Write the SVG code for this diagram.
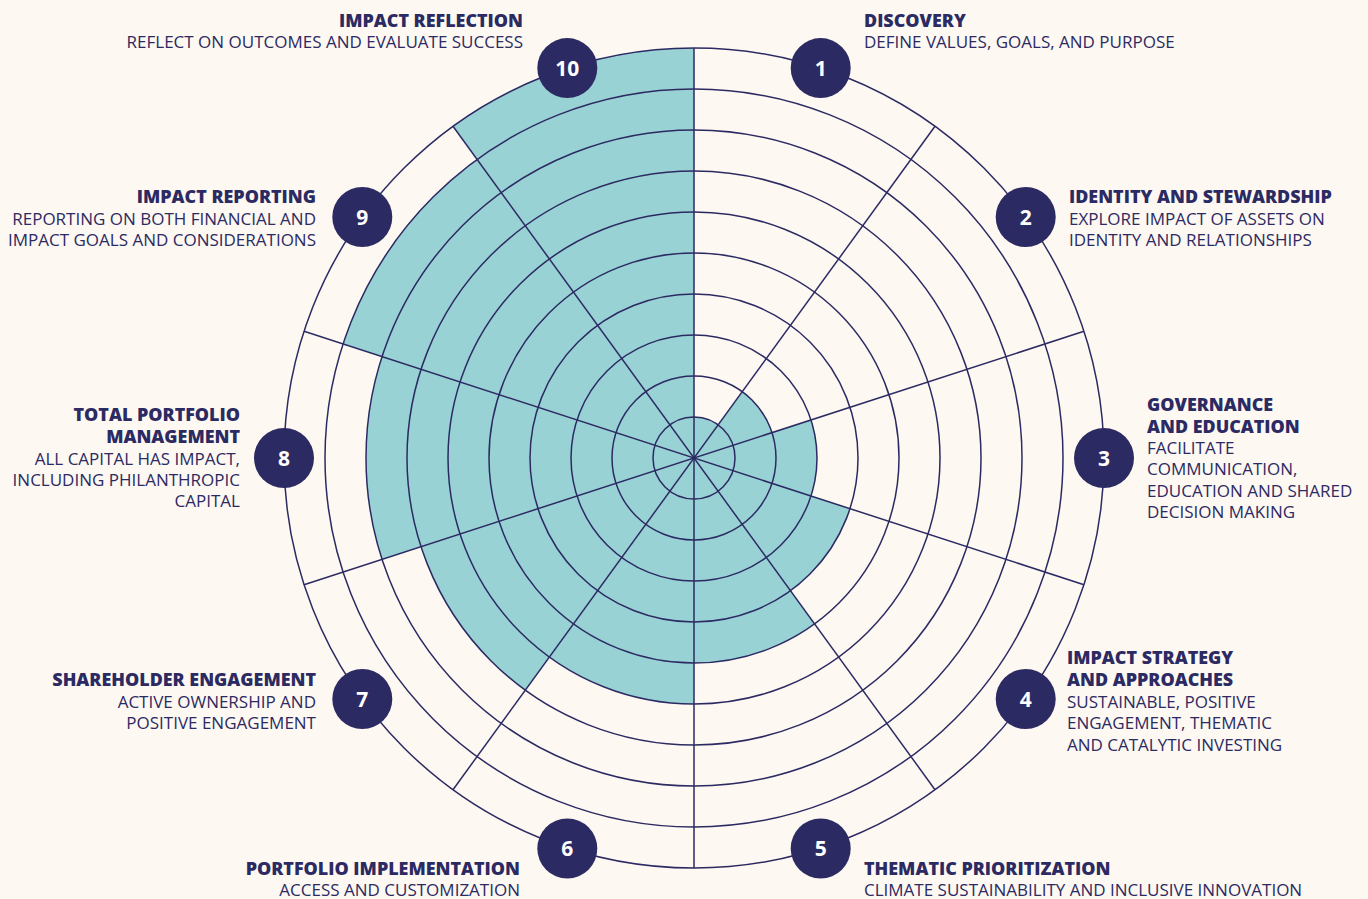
<svg xmlns="http://www.w3.org/2000/svg" width="1368" height="899" viewBox="0 0 1368 899">
<style>
.bg{fill:#fdf8f2}
.fill{fill:#98d2d5;stroke:none}
.ring{fill:none;stroke:#2c2a62;stroke-width:1.5}
.spoke{stroke:#2c2a62;stroke-width:1.5}
.badge{fill:#2c2a62}
.num{font-family:"Open Sans","Noto Sans",sans-serif;font-weight:700;font-size:21px;fill:#ffffff;text-anchor:middle}
.t{font-family:"Open Sans","Noto Sans",sans-serif;font-weight:800;font-size:17.9px;fill:#2c2a62}
.s{font-family:"Open Sans","Noto Sans",sans-serif;font-weight:400;font-size:17px;fill:#2c2a62}
.r{text-anchor:end}
</style>
<rect class="bg" x="0" y="0" width="1368" height="899"/>
<g id="fills">
<path class="fill" d="M694,458 L694,417 A41,41 0 0 1 718.10,424.83 Z"/>
<path class="fill" d="M694,458 L742.20,391.66 A82,82 0 0 1 771.99,432.66 Z"/>
<path class="fill" d="M694,458 L810.98,419.99 A123,123 0 0 1 810.98,496.01 Z"/>
<path class="fill" d="M694,458 L849.98,508.68 A164,164 0 0 1 790.40,590.68 Z"/>
<path class="fill" d="M694,458 L814.50,623.85 A205,205 0 0 1 694,663 Z"/>
<path class="fill" d="M694,458 L694,704 A246,246 0 0 1 549.40,657.01 Z"/>
<path class="fill" d="M694,458 L525.30,690.18 A287,287 0 0 1 421.03,546.68 Z"/>
<path class="fill" d="M694,458 L382.04,559.35 A328,328 0 0 1 382.04,356.65 Z"/>
<path class="fill" d="M694,458 L343.05,343.98 A369,369 0 0 1 477.10,159.48 Z"/>
<path class="fill" d="M694,458 L453.00,126.31 A410,410 0 0 1 694,48 Z"/>
</g>
<g id="connectors">
<circle class="ring" cx="694" cy="458" r="41"/>
<circle class="ring" cx="694" cy="458" r="82"/>
<circle class="ring" cx="694" cy="458" r="123"/>
<circle class="ring" cx="694" cy="458" r="164"/>
<circle class="ring" cx="694" cy="458" r="205"/>
<circle class="ring" cx="694" cy="458" r="246"/>
<circle class="ring" cx="694" cy="458" r="287"/>
<circle class="ring" cx="694" cy="458" r="328"/>
<circle class="ring" cx="694" cy="458" r="369"/>
<circle class="ring" cx="694" cy="458" r="410"/>
<line class="spoke" x1="694" y1="48" x2="694" y2="868"/>
<line class="spoke" x1="935.00" y1="126.31" x2="453.00" y2="789.69"/>
<line class="spoke" x1="1083.95" y1="331.31" x2="304.05" y2="584.69"/>
<line class="spoke" x1="1083.95" y1="584.69" x2="304.05" y2="331.31"/>
<line class="spoke" x1="935.00" y1="789.69" x2="453.00" y2="126.31"/>
</g>
<g id="node1">
<circle class="badge" cx="820.7" cy="68.1" r="30"/>
<text class="num" x="820.7" y="75.6">1</text>
<text class="t" x="864" y="27">DISCOVERY</text>
<text class="s" x="864" y="48">DEFINE VALUES, GOALS, AND PURPOSE</text>
</g>
<g id="node2">
<circle class="badge" cx="1025.7" cy="217" r="30"/>
<text class="num" x="1025.7" y="224.5">2</text>
<text class="t" x="1069" y="203">IDENTITY AND STEWARDSHIP</text>
<text class="s" x="1069" y="225">EXPLORE IMPACT OF ASSETS ON</text>
<text class="s" x="1069" y="246">IDENTITY AND RELATIONSHIPS</text>
</g>
<g id="node3">
<circle class="badge" cx="1104" cy="458" r="30"/>
<text class="num" x="1104" y="465.5">3</text>
<text class="t" x="1147" y="411">GOVERNANCE</text>
<text class="t" x="1147" y="433">AND EDUCATION</text>
<text class="s" x="1147" y="454">FACILITATE</text>
<text class="s" x="1147" y="475">COMMUNICATION,</text>
<text class="s" x="1147" y="497">EDUCATION AND SHARED</text>
<text class="s" x="1147" y="518">DECISION MAKING</text>
</g>
<g id="node4">
<circle class="badge" cx="1025.7" cy="699" r="30"/>
<text class="num" x="1025.7" y="706.5">4</text>
<text class="t" x="1067" y="664">IMPACT STRATEGY</text>
<text class="t" x="1067" y="686">AND APPROACHES</text>
<text class="s" x="1067" y="708">SUSTAINABLE, POSITIVE</text>
<text class="s" x="1067" y="729">ENGAGEMENT, THEMATIC</text>
<text class="s" x="1067" y="751">AND CATALYTIC INVESTING</text>
</g>
<g id="node5">
<circle class="badge" cx="820.7" cy="848.5" r="30"/>
<text class="num" x="820.7" y="856">5</text>
<text class="t" x="864" y="875">THEMATIC PRIORITIZATION</text>
<text class="s" x="864" y="895.5">CLIMATE SUSTAINABILITY AND INCLUSIVE INNOVATION</text>
</g>
<g id="node6">
<circle class="badge" cx="567.3" cy="848.5" r="30"/>
<text class="num" x="567.3" y="856">6</text>
<text class="t r" x="520" y="874.5">PORTFOLIO IMPLEMENTATION</text>
<text class="s r" x="520" y="895.5">ACCESS AND CUSTOMIZATION</text>
</g>
<g id="node7">
<circle class="badge" cx="362.3" cy="699" r="30"/>
<text class="num" x="362.3" y="706.5">7</text>
<text class="t r" x="316" y="686">SHAREHOLDER ENGAGEMENT</text>
<text class="s r" x="316" y="708">ACTIVE OWNERSHIP AND</text>
<text class="s r" x="316" y="729">POSITIVE ENGAGEMENT</text>
</g>
<g id="node8">
<circle class="badge" cx="284" cy="458" r="30"/>
<text class="num" x="284" y="465.5">8</text>
<text class="t r" x="240" y="421">TOTAL PORTFOLIO</text>
<text class="t r" x="240" y="443">MANAGEMENT</text>
<text class="s r" x="240" y="465">ALL CAPITAL HAS IMPACT,</text>
<text class="s r" x="240" y="486">INCLUDING PHILANTHROPIC</text>
<text class="s r" x="240" y="507">CAPITAL</text>
</g>
<g id="node9">
<circle class="badge" cx="362.3" cy="217" r="30"/>
<text class="num" x="362.3" y="224.5">9</text>
<text class="t r" x="316" y="203">IMPACT REPORTING</text>
<text class="s r" x="316" y="225">REPORTING ON BOTH FINANCIAL AND</text>
<text class="s r" x="316" y="246">IMPACT GOALS AND CONSIDERATIONS</text>
</g>
<g id="node10">
<circle class="badge" cx="567.3" cy="68.1" r="30"/>
<text class="num" x="567.3" y="75.6">10</text>
<text class="t r" x="523" y="27">IMPACT REFLECTION</text>
<text class="s r" x="523" y="48">REFLECT ON OUTCOMES AND EVALUATE SUCCESS</text>
</g>
</svg>
